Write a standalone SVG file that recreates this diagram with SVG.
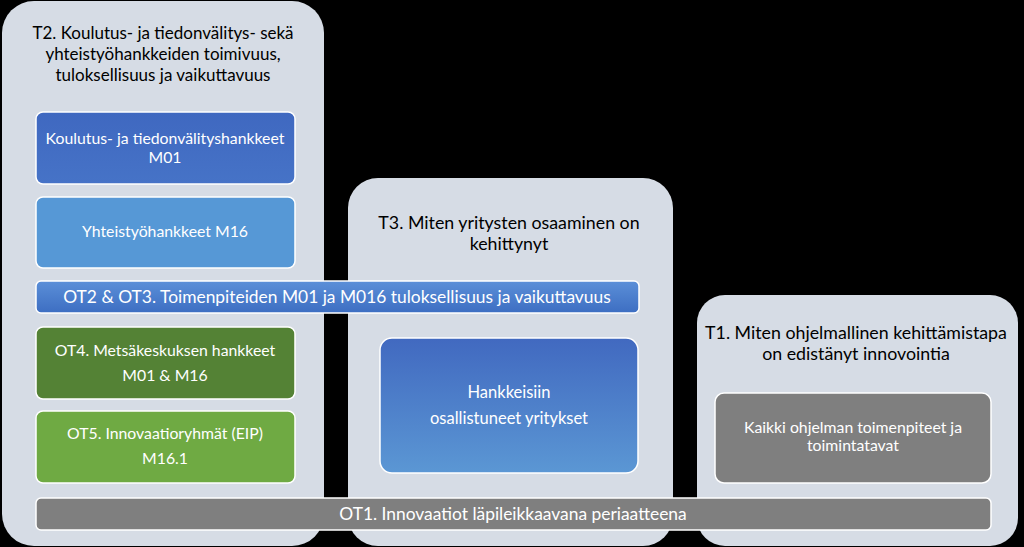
<svg xmlns="http://www.w3.org/2000/svg" width="1024" height="547" viewBox="0 0 1024 547">
<defs>
<linearGradient id="gBlueV" x1="0" y1="0" x2="0" y2="1"><stop offset="0" stop-color="#4169c0"/><stop offset="1" stop-color="#5b97d4"/></linearGradient>
<linearGradient id="gBar" x1="0" y1="0" x2="0" y2="1"><stop offset="0" stop-color="#5b8fd8"/><stop offset="1" stop-color="#3d6ec2"/></linearGradient>
<linearGradient id="gBox1" x1="0" y1="0" x2="0" y2="1"><stop offset="0" stop-color="#3f68c0"/><stop offset="1" stop-color="#4673c7"/></linearGradient>
</defs>
<style>
.panel{fill:#d6dce5}
.box{stroke:#ffffff;stroke-width:1.5}
text{font-family:Lato,"Liberation Sans",sans-serif;text-anchor:middle}
.title{font-size:17px;fill:#000000}
.title2{font-size:17.8px;fill:#000000}
.lbl{font-size:15.8px;fill:#ffffff}
.lbl2{font-size:16.5px;fill:#ffffff}
.bar{font-size:17.4px;fill:#ffffff}
</style>
<rect width="1024" height="547" fill="#000000"/>
<g id="panel-t2">
<rect class="panel" x="2" y="1" width="322" height="545" rx="32"/>
<text class="title" x="163" y="39">T2. Koulutus- ja tiedonvälitys- sekä</text>
<text class="title" x="163" y="60">yhteistyöhankkeiden toimivuus,</text>
<text class="title" x="163" y="81">tuloksellisuus ja vaikuttavuus</text>
</g>
<g id="panel-t3">
<rect class="panel" x="348" y="178" width="325" height="368" rx="30"/>
<text class="title2" x="509" y="229">T3. Miten yritysten osaaminen on</text>
<text class="title2" x="509" y="250">kehittynyt</text>
</g>
<g id="panel-t1">
<rect class="panel" x="697" y="295" width="321" height="251" rx="28"/>
<text class="title2" x="856" y="339">T1. Miten ohjelmallinen kehittämistapa</text>
<text class="title2" x="856" y="360">on edistänyt innovointia</text>
</g>
<g id="node-m01">
<rect class="box" x="36" y="112" width="259" height="72" rx="7" fill="url(#gBox1)"/>
<text class="lbl" x="165" y="144">Koulutus- ja tiedonvälityshankkeet</text>
<text class="lbl" x="165" y="163">M01</text>
</g>
<g id="node-m16">
<rect class="box" x="36" y="197" width="259" height="71" rx="7" fill="#5698d6"/>
<text class="lbl" x="165" y="237">Yhteistyöhankkeet M16</text>
</g>
<g id="node-ot2ot3">
<rect class="box" x="36" y="281" width="603" height="32" rx="5" fill="url(#gBar)"/>
<text class="bar" x="337" y="303">OT2 &amp; OT3. Toimenpiteiden M01 ja M016 tuloksellisuus ja vaikuttavuus</text>
</g>
<g id="node-ot4">
<rect class="box" x="36" y="327" width="259" height="72" rx="7" fill="#548235"/>
<text class="lbl" x="165" y="356">OT4. Metsäkeskuksen hankkeet</text>
<text class="lbl" x="165" y="381">M01 &amp; M16</text>
</g>
<g id="node-ot5">
<rect class="box" x="36" y="411" width="259" height="72" rx="7" fill="#6faa43"/>
<text class="lbl" x="165" y="439">OT5. Innovaatioryhmät (EIP)</text>
<text class="lbl" x="165" y="464">M16.1</text>
</g>
<g id="node-yritykset">
<rect class="box" x="380" y="338" width="258" height="135" rx="12" fill="url(#gBlueV)"/>
<text class="lbl2" x="509" y="398">Hankkeisiin</text>
<text class="lbl2" x="509" y="424">osallistuneet yritykset</text>
</g>
<g id="node-kaikki">
<rect class="box" x="715" y="393" width="276" height="90" rx="9" fill="#7f7f7f"/>
<text class="lbl" x="853" y="433">Kaikki ohjelman toimenpiteet ja</text>
<text class="lbl" x="853" y="451">toimintatavat</text>
</g>
<g id="node-ot1">
<rect class="box" x="36" y="498" width="955" height="32" rx="5" fill="#7f7f7f"/>
<text class="bar" x="513" y="520">OT1. Innovaatiot läpileikkaavana periaatteena</text>
</g>
<g id="connectors"></g>
</svg>
